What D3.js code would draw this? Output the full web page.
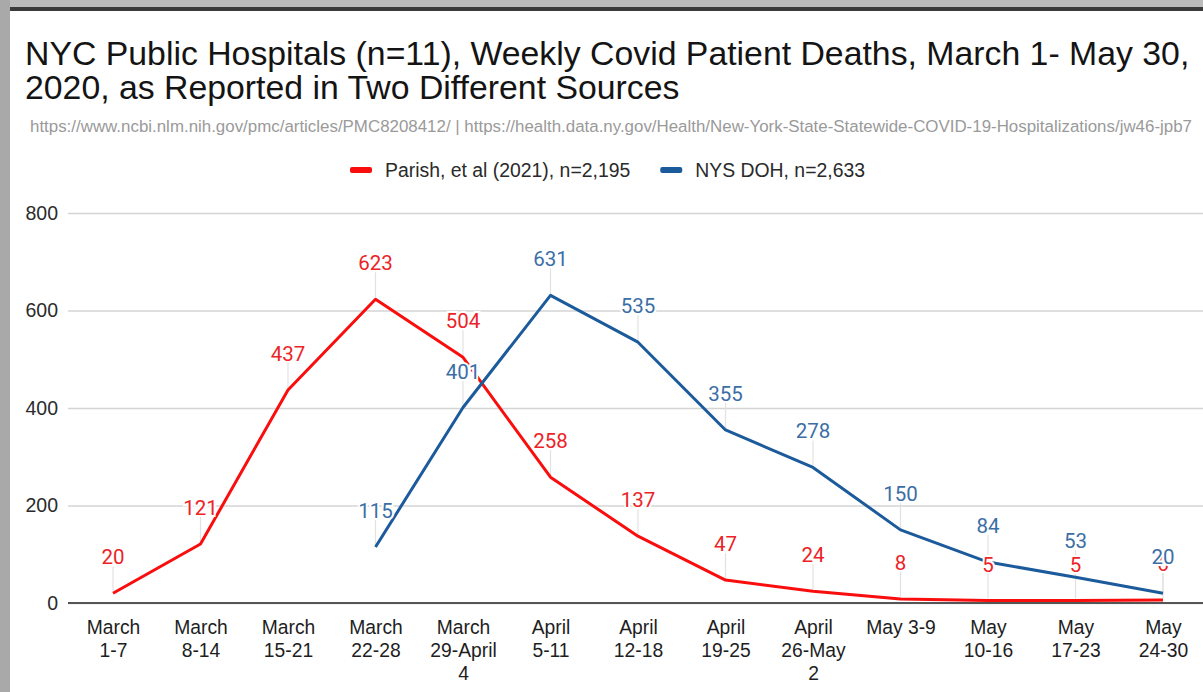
<!DOCTYPE html>
<html>
<head>
<meta charset="utf-8">
<script src="https://cdn.jsdelivr.net/npm/d3@7"></script>
<style>
  body { margin: 0; background: #fff; }
  .chart { width: 1203px; height: 692px; }
</style>
</head>
<body>
<div class="chart"></div>
<script>

const weeks = ["March 1-7", "March 8-14", "March 15-21", "March 22-28", "March 29-April 4",
    "April 5-11", "April 12-18", "April 19-25", "April 26-May 2", "May 3-9",
    "May 10-16", "May 17-23", "May 24-30"];

const parish = [20, 121, 437, 623, 504, 258, 137, 47, 24, 8, 5, 5, 6];
const nysDoh = [null, null, null, 115, 401, 631, 535, 355, 278, 150, 84, 53, 20];

const yTicks = [0, 200, 400, 600, 800];
const seriesNames = ["Parish, et al (2021), n=2,195", "NYS DOH, n=2,633"];

const titleLines = ["NYC Public Hospitals (n=11), Weekly Covid Patient Deaths, March 1- May 30,",
    "2020, as Reported in Two Different Sources"];
const sourceText = "https://www.ncbi.nlm.nih.gov/pmc/articles/PMC8208412/ | https://health.data.ny.gov/Health/New-York-State-Statewide-COVID-19-Hospitalizations/jw46-jpb7";

const W = 1203, H = 692;
const plot = { left: 68, right: 1203, top: 213, bottom: 603 };
const sans = "Liberation Sans, Arial, sans-serif";

const colors = {
    lines: ["#fa0d0d", "#1c5b9b"],
    labels: ["#ec2327", "#3c6ea6"]
};

const svg = d3.select(".chart").append("svg")
    .attr("width", W)
    .attr("height", H)
    .attr("viewBox", `0 0 ${W} ${H}`);

svg.append("rect").attr("width", W).attr("height", H).attr("fill", "#fff");

// the screenshot frame
svg.append("rect").attr("x", 0).attr("y", 0).attr("width", W).attr("height", 7).attr("fill", "#bcbcbc");
svg.append("rect").attr("x", 0).attr("y", 7).attr("width", W).attr("height", 4).attr("fill", "#3b3b3b");
svg.append("rect").attr("x", 0).attr("y", 0).attr("width", 10).attr("height", H).attr("fill", "#a9a9a9");

// title (one text, two lines) + sources
svg.append("text")
    .attr("font-family", sans)
    .attr("font-size", 33.8)
    .attr("fill", "#141414")
    .selectAll("tspan")
    .data(titleLines)
    .join("tspan")
    .attr("x", 25)
    .attr("y", (d, i) => 65 + i * 34)
    .text(d => d);

svg.append("text")
    .attr("x", 30)
    .attr("y", 132)
    .attr("font-family", sans)
    .attr("font-size", 16.9)
    .attr("fill", "#9a9a9a")
    .text(sourceText);

const x = d3.scalePoint().domain(weeks).range([113, 1163]);
const y = d3.scaleLinear().domain([0, 800]).range([plot.bottom, plot.top]);

// gridlines + y labels
const yAxis = svg.append("g")
    .attr("transform", `translate(${plot.left},0)`)
    .call(d3.axisLeft(y).tickValues(yTicks).tickSize(-(plot.right - plot.left)).tickPadding(10));

yAxis.select(".domain").remove();
yAxis.selectAll(".tick line").attr("stroke", "#d4d4d4").attr("stroke-width", 1.5);
yAxis.selectAll(".tick text")
    .attr("font-family", sans)
    .attr("font-size", 19.5)
    .attr("fill", "#2b2b2b");

svg.append("line")
    .attr("x1", plot.left).attr("x2", plot.right)
    .attr("y1", y(0)).attr("y2", y(0))
    .attr("stroke", "#555").attr("stroke-width", 2);

// x labels, wrapped like the sheet does
const xAxis = svg.append("g")
    .attr("transform", `translate(0,${plot.bottom})`)
    .call(d3.axisBottom(x).tickSize(0).tickPadding(17));

xAxis.select(".domain").remove();
xAxis.selectAll(".tick text")
    .attr("font-family", sans)
    .attr("font-size", 19.3)
    .attr("fill", "#1e1e1e")
    .call(wrap, 77);

function wrap(sel, maxW) {
    sel.each(function() {
        const t = d3.select(this);
        const words = t.text().split(/\s+/);
        const yy = t.attr("y");
        t.text(null);
        let lineNo = 0;
        let line = [];
        let tspan = t.append("tspan").attr("x", 0).attr("y", yy).attr("dy", "0.71em");
        for (const w of words) {
            line.push(w);
            tspan.text(line.join(" "));
            if (tspan.node().getComputedTextLength() > maxW && line.length > 1) {
                line.pop();
                tspan.text(line.join(" "));
                line = [w];
                lineNo++;
                tspan = t.append("tspan").attr("x", 0).attr("y", yy)
                    .attr("dy", (0.71 + lineNo * 1.2) + "em").text(w);
            }
        }
    });
}

// series
const series = [parish, nysDoh].map((vals, i) => ({
    name: seriesNames[i],
    points: weeks.map((w, j) => ({ week: w, value: vals[j] })).filter(d => d.value != null),
    idx: i
}));

const stems = svg.append("g");
series.forEach(s => {
    stems.selectAll(null)
        .data(s.points)
        .join("line")
        .attr("x1", d => x(d.week)).attr("x2", d => x(d.week))
        .attr("y1", d => y(d.value) - 2)
        .attr("y2", d => y(d.value) - 27)
        .attr("stroke", "#e2e2e2")
        .attr("stroke-width", 1.2);
});

const line = d3.line()
    .x(d => x(d.week))
    .y(d => y(d.value));

svg.append("g").selectAll("path")
    .data(series)
    .join("path")
    .attr("d", d => line(d.points))
    .attr("fill", "none")
    .attr("stroke", d => colors.lines[d.idx])
    .attr("stroke-width", 3)
    .attr("stroke-linejoin", "round");

const labels = svg.append("g");
series.forEach(s => {
    labels.selectAll(null)
        .data(s.points)
        .join("text")
        .attr("x", d => x(d.week))
        .attr("y", d => y(d.value) - 29)
        .attr("text-anchor", "middle")
        .attr("font-family", "Roboto, sans-serif")
        .attr("font-size", 20.5)
        .attr("fill", colors.labels[s.idx])
        .attr("stroke", "#fff")
        .attr("stroke-width", 4)
        .attr("paint-order", "stroke")
        .text(d => d.value);
});

// legend
const legend = svg.append("g").attr("transform", "translate(350,170)");
let lx = 0;
seriesNames.forEach((name, i) => {
    legend.append("rect")
        .attr("x", lx).attr("y", -3)
        .attr("width", 22).attr("height", 6)
        .attr("rx", 2)
        .attr("fill", colors.lines[i]);
    const t = legend.append("text")
        .attr("x", lx + 35)
        .attr("y", 7)
        .attr("font-family", sans)
        .attr("font-size", 19.4)
        .attr("fill", "#2a2a2a")
        .text(name);
    lx += 35 + t.node().getComputedTextLength() + 30;
});

</script>
</body>
</html>
